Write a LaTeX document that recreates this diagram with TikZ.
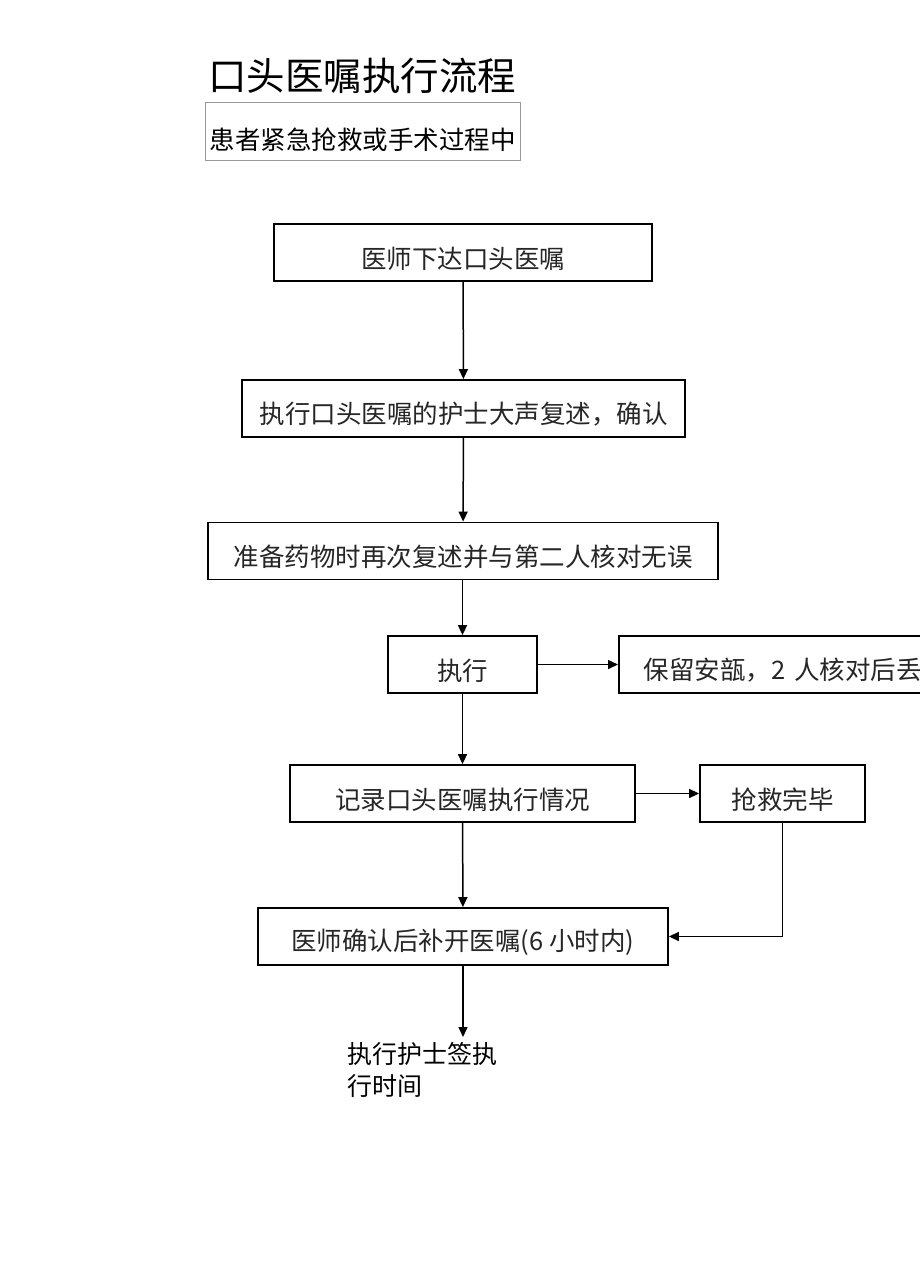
\documentclass[tikz,border=0pt]{standalone}
\usepackage{fontspec}
\setmainfont{Noto Sans CJK SC}
\usetikzlibrary{arrows.meta}
\newcommand{\lowtxt}[1]{\raisebox{-6pt}[\height][\depth]{#1}}
\tikzset{
  box/.style={draw=black, line width=1.8pt, minimum height=57pt, inner sep=0pt, font=\fontsize{25.5}{30}\selectfont, text=black!85},
  arr/.style={line width=1.5pt, -{Triangle[length=10pt,width=9pt]}},
  lin/.style={line width=1.5pt}
}
\begin{document}
\begin{tikzpicture}[x=1pt,y=-1pt]
\clip (0,0) rectangle (920,1283);
\fill[white] (0,0) rectangle (920,1283);
\node[font=\fontsize{38.5}{44}\selectfont, inner sep=0pt] (title) at (362,76) {口头医嘱执行流程};
\node[draw=black!40, line width=0.8pt, minimum width=315pt, minimum height=58pt, inner sep=0pt, font=\fontsize{25.5}{30}\selectfont] (hdr) at (362.5,131) {\raisebox{-9pt}[\height][\depth]{患者紧急抢救或手术过程中}};
\node[box, minimum width=378pt] (b1) at (463,252.5) {\lowtxt{医师下达口头医嘱}};
\node[box, minimum width=443pt] (b2) at (463.5,408.5) {\lowtxt{执行口头医嘱的护士大声复述，确认}};
\node[box, minimum width=510pt] (b3) at (463,551) {\lowtxt{准备药物时再次复述并与第二人核对无误}};
\node[box, minimum width=149pt] (b4) at (462.5,664.5) {\lowtxt{执行}};
\node[box, anchor=west, text width=280pt, align=left, inner xsep=25pt] (b5) at (618,664.5) {\lowtxt{保留安瓿，2 人核对后丢弃}};
\node[box, minimum width=345pt] (b6) at (462.5,793.5) {\lowtxt{记录口头医嘱执行情况}};
\node[box, minimum width=165pt] (b7) at (782.5,793.5) {\lowtxt{抢救完毕}};
\node[box, minimum width=410pt] (b8) at (463,936.5) {\lowtxt{医师确认后补开医嘱(6 小时内)}};
\coordinate (end) at (463,1037);
\node[anchor=north west, align=left, inner sep=0pt, font=\fontsize{25}{32}\selectfont] (note) at (347,1042) {执行护士签执\\行时间};
\draw[arr] (b1) -- (b2);
\draw[arr] (b2) -- (b3);
\draw[arr] (b3.south -| b4) -- (b4);
\draw[arr] (b4) -- (b5);
\draw[arr] (b4) -- (b6);
\draw[arr] (b6) -- (b7);
\draw[arr] (b6) -- (b8);
\draw[arr] (b7.south) |- (b8.east);
\draw[arr] (b8) -- (end);
\end{tikzpicture}
\end{document}
